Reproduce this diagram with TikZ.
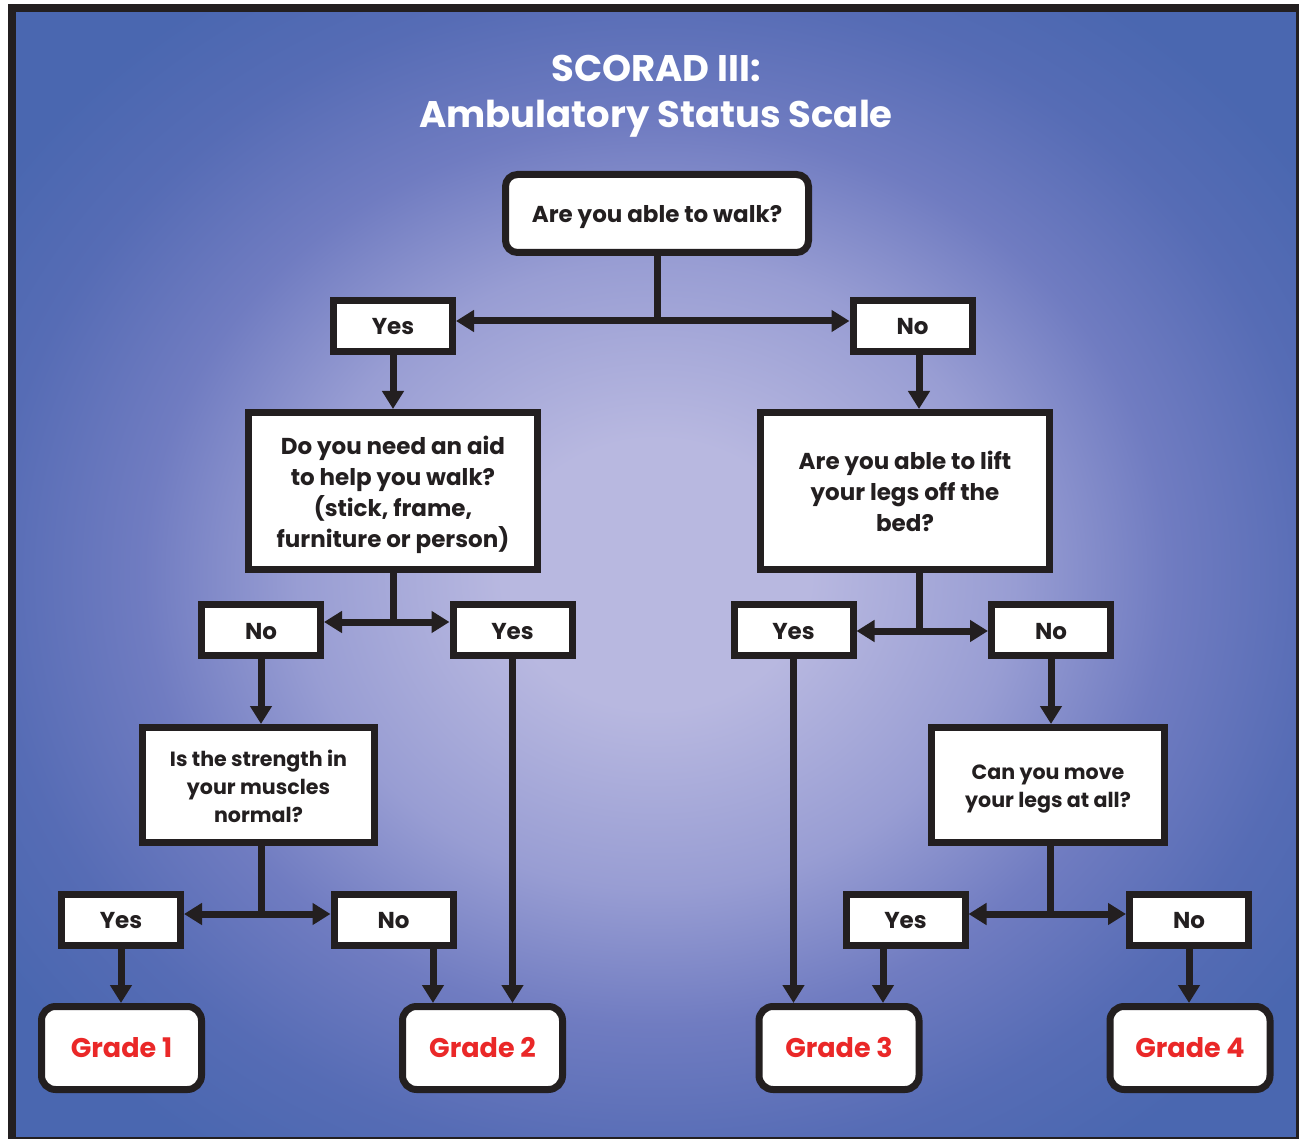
\documentclass[tikz,border=0pt]{standalone}
\usepackage{fontspec}
\setmainfont{Poppins}
\usetikzlibrary{arrows.meta,calc}
\definecolor{bgblue}{RGB}{74,103,176}
\definecolor{bgmid3}{RGB}{86,108,181}
\definecolor{bgmid2}{RGB}{112,124,193}
\definecolor{bgmid}{RGB}{152,157,211}
\definecolor{bglight}{RGB}{184,184,224}
\definecolor{ink}{RGB}{35,31,32}
\definecolor{gradered}{RGB}{234,40,40}
\pgfdeclareradialshading{bgshade}{\pgfpoint{0bp}{0bp}}{color(0bp)=(bglight); color(6bp)=(bglight); color(14bp)=(bgmid); color(20bp)=(bgmid2); color(26bp)=(bgmid3); color(31bp)=(bgblue); color(50bp)=(bgblue)}
\newcommand{\titlefont}{\fontsize{37}{47}\selectfont\bfseries}
\newcommand{\bodyfont}{\fontsize{23}{31}\selectfont\bfseries}
\newcommand{\smallbodyfont}{\fontsize{20.6}{28}\selectfont\bfseries}
\newcommand{\gradefont}{\fontsize{27}{30}\selectfont\bfseries}
\begin{document}
\begin{tikzpicture}[x=1pt,y=-1pt,
  titletext/.style={text=white, font=\titlefont, anchor=base, inner sep=0pt},
  box/.style={draw=ink, fill=white, line width=7pt, inner sep=0pt, align=center, text=ink, font=\bodyfont},
  ans/.style={box, minimum width=119pt, minimum height=51pt, text height=18pt, text depth=0pt},
  bigq/.style={box, minimum width=289pt, minimum height=157pt, text depth=0pt},
  smallq/.style={box, font=\smallbodyfont, minimum width=232pt, minimum height=115pt, text depth=0pt},
  topq/.style={box, rounded corners=12pt, minimum width=303pt, minimum height=78pt, text height=18pt, text depth=0pt},
  grade/.style={box, rounded corners=14pt, minimum width=160pt, minimum height=83pt, text=gradered, font=\gradefont, text height=19pt, text depth=0pt},
  conn/.style={line width=7pt, draw=ink},
  arr/.style={conn, -{Triangle[length=18pt,width=21pt]}}
]
\useasboundingbox (0,0) rectangle (1299,1139);
\fill[white] (0,0) rectangle (1299,1139);
\shade[shading=bgshade] (16,12) rectangle (1296,1137);
\draw[line width=8pt, draw=ink] (12,8.5) rectangle (1300,1141);

\node[titletext] (t1) at (656,82) {SCORAD III:};
\node[titletext] (t2) at (656,128) {Ambulatory Status Scale};

\node[topq] (q1) at (657,213.5) {Are you able to walk?};
\node[ans] (y1) at (393,326) {Yes};
\node[ans] (n1) at (912.5,326) {No};
\node[bigq, text height=112pt] (q2) at (393,491) {Do you need an aid\\to help you walk?\\(stick, frame,\\furniture or person)};
\node[bigq, text height=80pt] (q3) at (905,491) {Are you able to lift\\your legs off the\\bed?};
\node[ans] (n2) at (261,630) {No};
\node[ans] (y2) at (512.5,630) {Yes};
\node[ans] (y3) at (793.5,630) {Yes};
\node[ans] (n3) at (1051,630) {No};
\node[smallq, text height=75pt] (q4) at (258.5,785) {Is the strength in\\your muscles\\normal?};
\node[smallq, minimum width=233pt, text height=45pt] (q5) at (1048,785) {Can you move\\your legs at all?};
\node[ans] (y4) at (121,919.5) {Yes};
\node[ans] (n4) at (393.5,919.5) {No};
\node[ans] (y5) at (905.5,919.5) {Yes};
\node[ans] (n5) at (1189,919.5) {No};
\node[grade] (g1) at (121.5,1048) {Grade 1};
\node[grade] (g2) at (482.5,1048) {Grade 2};
\node[grade] (g3) at (839,1048) {Grade 3};
\node[grade] (g4) at (1190,1048) {Grade 4};

\coordinate (j1) at (657,321);
\coordinate (j2) at (393,622);
\coordinate (j3) at (919,631);
\coordinate (j4) at (261,914);
\coordinate (j5) at (1050,914);
\coordinate (c2) at (433,0);
\coordinate (c3) at (883,0);

% level 1
\draw[conn] (q1.south) -- (j1);
\draw[arr] (j1) -- (j1 -| y1.east);
\draw[arr] (j1) -- (j1 -| n1.west);
\draw[arr] (y1.south) -- (q2.north);
\draw[arr] (n1.south -| j3) -- (q3.north -| j3);
% level 2
\draw[conn] (q2.south) -- (j2);
\draw[arr] (j2) -- (j2 -| n2.east);
\draw[arr] (j2) -- (j2 -| y2.west);
\draw[conn] (q3.south -| j3) -- (j3);
\draw[arr] (j3) -- (j3 -| y3.east);
\draw[arr] (j3) -- (j3 -| n3.west);
% level 3
\draw[arr] (n2.south) -- (q4.north -| n2.south);
\draw[arr] (y2.south) -- (g2.north -| y2.south);
\draw[arr] (y3.south) -- (g3.north -| y3.south);
\draw[arr] (n3.south) -- (q5.north -| n3.south);
% level 4
\draw[conn] (q4.south -| j4) -- (j4);
\draw[arr] (j4) -- (j4 -| y4.east);
\draw[arr] (j4) -- (j4 -| n4.west);
\draw[conn] (q5.south -| j5) -- (j5);
\draw[arr] (j5) -- (j5 -| y5.east);
\draw[arr] (j5) -- (j5 -| n5.west);
% level 5
\draw[arr] (y4.south) -- (g1.north -| y4.south);
\draw[arr] (n4.south -| c2) -- (g2.north -| c2);
\draw[arr] (y5.south -| c3) -- (g3.north -| c3);
\draw[arr] (n5.south) -- (g4.north -| n5.south);
\end{tikzpicture}
\end{document}
